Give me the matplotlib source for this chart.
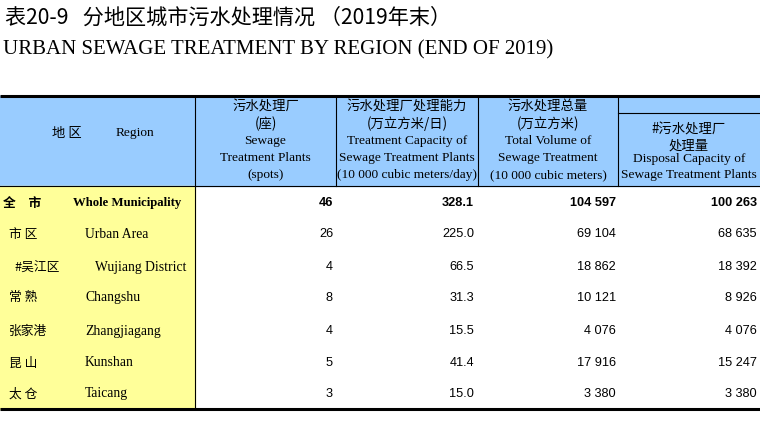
import matplotlib
matplotlib.use("Agg")
import matplotlib.pyplot as plt
from matplotlib.patches import Rectangle

W, H = 760, 443

title_cn = "表20-9   分地区城市污水处理情况 （2019年末）"
title_en = "URBAN SEWAGE TREATMENT BY REGION (END OF 2019)"

regions_cn = ["全　市", "市 区", "#吴江区", "常 熟", "张家港", "昆 山", "太 仓"]
regions_en = ["Whole Municipality", "Urban Area", "Wujiang District", "Changshu",
              "Zhangjiagang", "Kunshan", "Taicang"]
plants = [46, 26, 4, 8, 4, 5, 3]
capacity = [328.1, 225.0, 66.5, 31.3, 15.5, 41.4, 15.0]
total_volume = [104597, 69104, 18862, 10121, 4076, 17916, 3380]
disposal = [100263, 68635, 18392, 8926, 4076, 15247, 3380]

col_headers = [
    ["污水处理厂", "(座)", "Sewage", "Treatment Plants", "(spots)"],
    ["污水处理厂处理能力", "(万立方米/日)", "Treatment Capacity of",
     "Sewage Treatment Plants", "(10 000 cubic meters/day)"],
    ["污水处理总量", "(万立方米)", "Total Volume of", "Sewage Treatment",
     "(10 000 cubic meters)"],
]
sub_header = ["#污水处理厂", "处理量", "Disposal Capacity of", "Sewage Treatment Plants"]


def fmt_int(v):
    return f"{v:,}".replace(",", " ")


CJK = ["Noto Sans CJK SC", "DejaVu Sans"]
SERIF = ["Liberation Serif", "DejaVu Serif"]
SANS = ["Liberation Sans", "DejaVu Sans"]

fig = plt.figure(figsize=(W / 100, H / 100), dpi=100)
ax = fig.add_axes([0, 0, 1, 1])
ax.set_xlim(0, W)
ax.set_ylim(H, 0)
ax.axis("off")

# titles
ax.text(5, 18, title_cn, family=CJK, fontsize=15.2, va="center", ha="left")
ax.text(3, 50, title_en, family=SERIF, fontsize=15.0, va="center", ha="left")

top, hdr_bot, bot = 96, 186, 409
xs = [0, 195, 336, 478, 618, 760]
sub_top = 113

# backgrounds
ax.add_patch(Rectangle((0, top), W, hdr_bot - top, color="#99CCFF", zorder=0))
ax.add_patch(Rectangle((0, hdr_bot), xs[1], bot - hdr_bot, color="#FFFF99", zorder=0))

# lines
ax.plot([0, W], [top, top], color="black", lw=2.2, solid_capstyle="butt")
ax.plot([0, W], [bot, bot], color="black", lw=2.2, solid_capstyle="butt")
ax.plot([0, W], [hdr_bot, hdr_bot], color="black", lw=0.8)
ax.plot([xs[1], xs[1]], [top, bot], color="black", lw=0.8)
for x in xs[2:5]:
    ax.plot([x, x], [top, hdr_bot], color="black", lw=0.8)
ax.plot([xs[4], W], [sub_top, sub_top], color="black", lw=0.8)

# header texts
HF = 9.6
ax.text(67, 133, "地 区", family=CJK, fontsize=HF, va="center", ha="center")
ax.text(135, 133, "Region", family=SERIF, fontsize=HF, va="center", ha="center")
line_y = [107, 124, 141, 158, 175]
for i, lines in enumerate(col_headers):
    cx = (xs[i + 1] + xs[i + 2]) / 2
    for j, (t, y) in enumerate(zip(lines, line_y)):
        fam = CJK if j < 2 else SERIF
        ax.text(cx, y, t, family=fam, fontsize=HF, va="center", ha="center")
cx = (xs[4] + xs[5]) / 2
for j, (t, y) in enumerate(zip(sub_header, [130, 146, 159, 175])):
    fam = CJK if j < 2 else SERIF
    ax.text(cx, y, t, family=fam, fontsize=HF, va="center", ha="center")

# body
row_y = [203, 234, 267, 298, 331, 363, 394]
cn_x = [3, 9, 14, 9, 9, 9, 9]
en_x = [73, 85, 95, 85, 85, 85, 85]
rights = [333, 474, 616, 757]
for r in range(len(regions_cn)):
    y = row_y[r]
    bold = "bold" if r == 0 else "normal"
    ax.text(cn_x[r], y, regions_cn[r], family=CJK, fontsize=9.2, va="center",
            ha="left", weight=bold)
    ax.text(en_x[r], y, regions_en[r], family=SERIF,
            fontsize=9.2 if r == 0 else 9.8, va="center", ha="left", weight=bold)
    vals = [str(plants[r]), f"{capacity[r]:.1f}", fmt_int(total_volume[r]),
            fmt_int(disposal[r])]
    for v, rx in zip(vals, rights):
        ax.text(rx, y, v, family=SANS, fontsize=9.2, va="center", ha="right",
                weight=bold)

fig.savefig("out.png", dpi=100)
